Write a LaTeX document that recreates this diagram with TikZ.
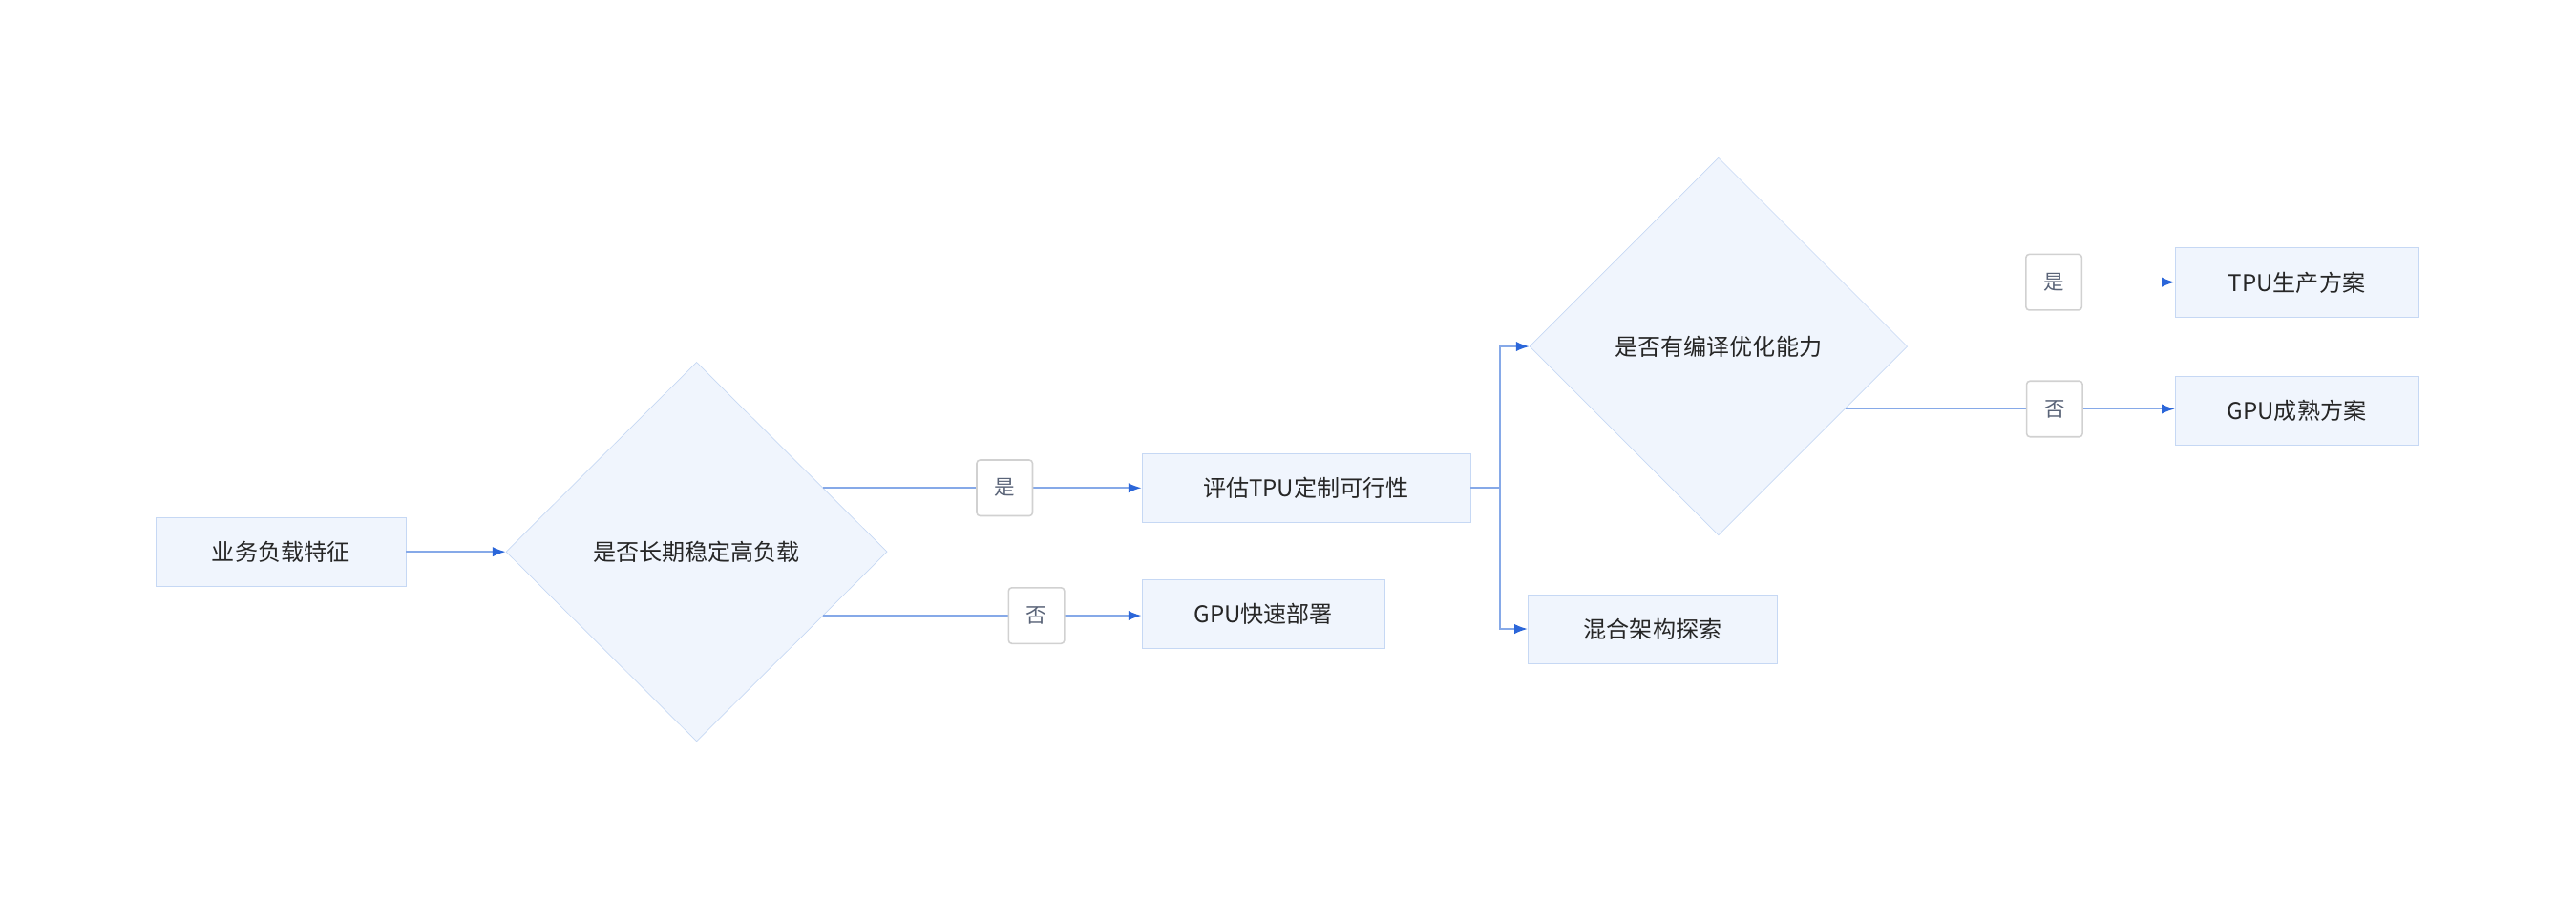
\documentclass[tikz,border=0pt]{standalone}
\usepackage{fontspec}
\setmainfont{Noto Sans CJK SC}
\usetikzlibrary{shapes.geometric,calc,arrows.meta}
\definecolor{boxFill}{HTML}{F0F5FD}
\definecolor{boxLine}{HTML}{C6D8F4}
\definecolor{edgeLine}{HTML}{86A9E8}
\definecolor{tipBlue}{HTML}{2B66D9}
\definecolor{lblText}{HTML}{5A6478}
\tikzset{
	stage/.style={draw=boxLine, fill=boxFill, minimum height=42pt, inner sep=0pt, font=\fontsize{14}{16}\selectfont, text=black!85},
	test/.style={diamond, aspect=1, draw=boxLine, fill=boxFill, minimum width=232pt, minimum height=231pt, inner sep=0pt, font=\fontsize{14}{16}\selectfont, text=black!85},
	flow/.style={draw=edgeLine, line width=0.9pt, -{Latex[length=8pt,width=6pt,color=tipBlue]}},
	tag/.style={draw=black!18, fill=white, rounded corners=2pt, minimum size=34pt, inner sep=0pt, font=\fontsize{12.5}{14}\selectfont, text=lblText},
}
\begin{document}
\begin{tikzpicture}[x=1pt,y=-1pt]
	\useasboundingbox (0,0) rectangle (1568,547);

	%first stage
	\node[stage, minimum width=152pt] (load) at (171,336) {业务负载特征};
	\node[test] (steady) at (424,336) {是否长期稳定高负载};
	\node[stage, minimum width=200pt] (eval) at (795,297) {评估TPU定制可行性};
	\node[stage, minimum width=148pt] (gpufast) at (769,374) {GPU快速部署};

	%second stage
	\node[test, minimum width=230pt, minimum height=230pt] (compile) at (1046,211) {是否有编译优化能力};
	\node[stage, minimum width=152pt] (hybrid) at (1006,383) {混合架构探索};
	\node[stage, minimum width=148pt] (tpuprod) at (1398,172) {TPU生产方案};
	\node[stage, minimum width=148pt] (gpumat) at (1398,250) {GPU成熟方案};

	%exit points on the diamond sides
	\coordinate (steadyYes) at ($(steady.north)!0.664!(steady.east)$);
	\coordinate (steadyNo) at ($(steady.south)!0.664!(steady.east)$);
	\coordinate (compileYes) at ($(compile.north)!0.66!(compile.east)$);
	\coordinate (compileNo) at ($(compile.south)!0.67!(compile.east)$);
	\coordinate (fork) at (913,297);

	\draw[flow] (load) -- (steady);
	\draw[flow] (steadyYes) -- node[tag, pos=0.57] {是} (steadyYes -| eval.west);
	\draw[flow] (steadyNo) -- node[tag, pos=0.67] {否} (steadyNo -| gpufast.west);
	\draw[flow] (eval.east) -- (fork) |- (compile.west);
	\draw[flow] (fork) |- (hybrid.west);
	\draw[flow] (compileYes) -- node[tag, pos=0.635] {是} (compileYes -| tpuprod.west);
	\draw[flow] (compileNo) -- node[tag, pos=0.635] {否} (compileNo -| gpumat.west);
\end{tikzpicture}
\end{document}
